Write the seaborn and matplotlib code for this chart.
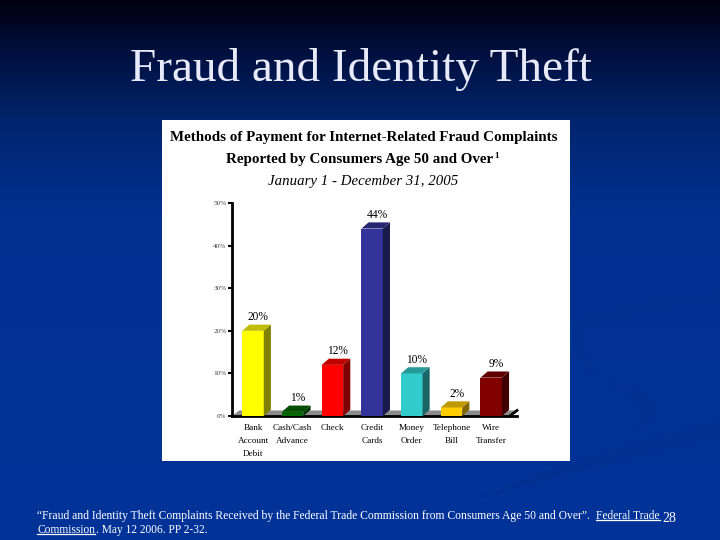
import numpy as np
import pandas as pd
import seaborn as sns
import matplotlib.pyplot as plt
from matplotlib.patches import Polygon, Rectangle, PathPatch
from matplotlib.path import Path
from matplotlib.colors import LinearSegmentedColormap, to_rgb

categories = ['Bank\nAccount\nDebit', 'Cash/Cash\nAdvance', 'Check', 'Credit\nCards',
              'Money\nOrder', 'Telephone\nBill', 'Wire\nTransfer']
values = [20, 1, 12, 44, 10, 2, 9]
labels = ['20%', '1%', '12%', '44%', '10%', '2%', '9%']
colors = ['#ffff00', '#006600', '#ff0000', '#333399', '#33cccc', '#ffcc00', '#800000']
yticks = [0, 10, 20, 30, 40, 50]

W, H = 720, 540
plt.rcParams['font.family'] = ['Liberation Serif', 'DejaVu Serif']

fig = plt.figure(figsize=(7.2, 5.4), dpi=100)


def px_axes(x0, y0, x1, y1, **kw):
    # axes from pixel box, y counted from the top
    return fig.add_axes([x0 / W, 1 - y1 / H, (x1 - x0) / W, (y1 - y0) / H], **kw)


# slide background
bg = px_axes(0, 0, W, H)
cmap = LinearSegmentedColormap.from_list(
    'slide', [(0, '#00000f'), (0.1, '#001040'), (0.23, '#00266f'), (0.4, '#003090'), (1, '#003399')])
bg.imshow(np.linspace(0, 1, 256).reshape(-1, 1), aspect='auto', cmap=cmap, extent=[0, W, H, 0])
bg.set_xlim(0, W)
bg.set_ylim(H, 0)
bg.axis('off')

# the faint darker swooshes
C3 = Path.CURVE3
swooshes = [
    ([(570, 322), (640, 298), (720, 292), (720, 302), (640, 308), (580, 330), (570, 322)],
     [Path.MOVETO, C3, C3, Path.LINETO, C3, C3, Path.LINETO]),
    ([(575, 325), (570, 360), (600, 382), (582, 355), (582, 328)],
     [Path.MOVETO, C3, C3, C3, C3]),
    ([(593, 379), (700, 395), (627, 442), (668, 400), (593, 379)],
     [Path.MOVETO, C3, C3, C3, C3]),
    ([(720, 421), (720, 437), (600, 465), (473, 500), (590, 450), (720, 421)],
     [Path.MOVETO, Path.LINETO, C3, C3, C3, C3]),
]
for verts, codes in swooshes:
    bg.add_patch(PathPatch(Path(verts, codes), fc='#003090', ec='none'))

bg.add_patch(Rectangle((162, 120), 408, 341, fc='white', ec='none'))

bg.text(361, 81, 'Fraud and Identity Theft', color='#e8eafa', fontsize=33.9, ha='center', va='baseline')

bg.text(363.5, 138, 'Methods of Payment for Internet-Related Fraud Complaints',
        fontsize=10.85, fontweight='bold', ha='center', va='center', color='black')
bg.text(360, 159, 'Reported by Consumers Age 50 and Over', fontsize=10.85, fontweight='bold',
        ha='center', va='center', color='black')
bg.text(497, 156, '1', fontsize=6.5, fontweight='bold', ha='center', va='center', color='black')
bg.text(363, 181, 'January 1 - December 31, 2005', fontsize=10.7, fontstyle='italic',
        ha='center', va='center', color='black')

# footnote
foot = bg.text(37, 516, '\u201cFraud and Identity Theft Complaints Received by the Federal Trade Commission '
               'from Consumers Age 50 and Over\u201d.', color='white', fontsize=8.4, va='center')
ul1 = bg.text(596, 516, 'Federal Trade', color='white', fontsize=8.3, va='center')
ul2 = bg.text(37, 530, 'Commission', color='white', fontsize=8.3, va='center')
tail = bg.text(96, 530, '. May 12 2006. PP 2-32.', color='white', fontsize=8.3, va='center')
bg.text(669, 518, '28', color='white', fontsize=10, va='center', ha='center')
fig.canvas.draw()
inv = bg.transData.inverted()
for t in [ul1, ul2]:
    box = t.get_window_extent().transformed(inv)
    y = max(box.y0, box.y1) - 2.5
    bg.plot([box.x0, box.x1], [y, y], color='white', lw=0.9)
bg.set_xlim(0, W)
bg.set_ylim(H, 0)

# chart, 232..517 px wide, 0% at 416 and 50% at 203
ax = px_axes(232, 203, 517, 416)
ax.patch.set_alpha(0)
df = pd.DataFrame({'method': categories, 'share': values})
sns.barplot(data=df, x='method', y='share', hue='method', palette=colors, legend=False,
            width=0.54, saturation=1, ax=ax, zorder=3)
ax.set_xlim(-0.53, 6.65)
ax.set_ylim(0, 50)
ax.set_xlabel('')
ax.set_ylabel('')

dx, dy = 0.18, 1.45  # extrusion depth in data units
floor_dy = 1.3

# grey floor behind the bars
ax.add_patch(Polygon([(-0.53, 0), (-0.53 + dx, floor_dy), (6.65, floor_dy), (6.65 - dx, 0)],
                     fc='#8c8c8c', ec='none', zorder=1))
ax.plot([6.65 - dx, 6.65], [0, floor_dy], color='black', lw=2, zorder=2, clip_on=False)

for bar, c, lab in zip(ax.patches, colors, labels):
    x0, x1 = bar.get_x(), bar.get_x() + bar.get_width()
    h = bar.get_height()
    rgb = np.array(to_rgb(c))
    ax.add_patch(Polygon([(x1, 0), (x1 + dx, dy), (x1 + dx, h + dy), (x1, h)], fc=rgb * 0.5, ec='none', zorder=3))
    ax.add_patch(Polygon([(x0, h), (x0 + dx, h + dy), (x1 + dx, h + dy), (x1, h)], fc=rgb * 0.75, ec='none', zorder=3))
    ax.text((x0 + x1) / 2 + 0.13, h + dy + 0.3, lab, fontsize=8.3, ha='center', va='bottom', color='black')

sns.despine(ax=ax, top=True, right=True)
ax.spines['left'].set_linewidth(2)
ax.spines['bottom'].set_linewidth(2)
ax.set_yticks(yticks)
ax.set_yticklabels([f'{v}%' for v in yticks], fontsize=5.2, color='#444444')
ax.tick_params(axis='y', length=3, width=1.5, pad=1, direction='out')
ax.tick_params(axis='x', length=0, pad=5.5, labelsize=6.6)
ax.set_xticks(range(len(categories)))
ax.set_xticklabels(categories, linespacing=1.85)

fig.savefig('out.png', dpi=100)
